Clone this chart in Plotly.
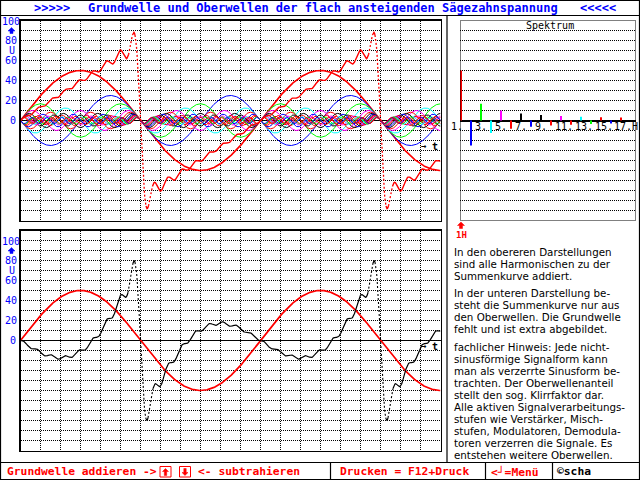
import numpy as np
import plotly.graph_objects as go

# ---------------- data ----------------
HARMONIC_NO = list(range(1, 18))
# amplitudes of harmonics as read in the spectrum panel (units of U)
HARMONIC_AMP = [50, -25, 16.7, -12.5, 10, -8.3, 7.1, -6.3, 5.6, -5,
                4.5, -4.2, 3.8, -3.6, 3.3, -3.1, 2.9]
HARMONIC_COLOR = ["#ff0000", "#0000ff", "#00ff00", "#00ffff", "#ff00ff", "#ff0000",
                  "#000000", "#0000ff", "#000000", "#ff0000", "#ff00ff", "#ff0000",
                  "#00ffff", "#00ff00", "#ff0000", "#0000ff", "#ff0000"]
Y_TICK_LABELS = ["100", "80", "60", "40", "20", "0"]
Y_TICK_VALUES = [100, 80, 60, 40, 20, 0]
SPEC_LABELS = ["1.", "3.", "5.", "7.", "9.", "11.", "13.", "15.", "17.H"]
SPEC_LABEL_POS = [0.6, 3.0, 5.0, 7.0, 9.0, 11.3, 13.3, 15.3, 17.5]
PHASE_END_DEG = 630

TITLE = "Grundwelle und Oberwellen der flach ansteigenden Sägezahnspannung"
INFO_LINES = [
    ("In den obereren Darstellungen", 251),
    ("sind alle Harmonischen zu der", 263),
    ("Summenkurve addiert.", 275),
    ("In der unteren Darstellung be-", 292),
    ("steht die Summenkurve nur aus", 304),
    ("den Oberwellen. Die Grundwelle", 316),
    ("fehlt und ist extra abgebildet.", 328),
    ("fachlicher Hinweis: Jede nicht-", 346),
    ("sinusförmige Signalform kann", 358),
    ("man als verzerrte Sinusform be-", 370),
    ("trachten. Der Oberwellenanteil", 382),
    ("stellt den sog. Klirrfaktor dar.", 394),
    ("Alle aktiven Signalverarbeitungs-", 406),
    ("stufen wie Verstärker, Misch-", 418),
    ("stufen, Modulatoren, Demodula-", 430),
    ("toren verzerren die Signale. Es", 442),
    ("entstehen weitere Oberwellen.", 454),
]

W, H = 640, 480
DEG_PER_PX = 1.5


def px(x):
    return x / W


def py(y):
    return 1 - y / H


# ---------------- curves ----------------
t = np.arange(0, PHASE_END_DEG + 0.01, 0.75)
rad = np.deg2rad(t)
waves = [a * np.sin(n * rad) for n, a in zip(HARMONIC_NO, HARMONIC_AMP)]
total = np.sum(waves, axis=0)
overtones = total - waves[0]


def split_curve(x, y, thr=4.0):
    out = {False: ([], []), True: ([], [])}
    prev = None
    for i in range(len(x) - 1):
        s = abs(y[i + 1] - y[i]) / ((x[i + 1] - x[i]) / DEG_PER_PX) > thr
        xs, ys = out[s]
        if prev != s:
            if xs:
                xs.append(None)
                ys.append(None)
            xs.append(x[i])
            ys.append(y[i])
        xs.append(x[i + 1])
        ys.append(y[i + 1])
        prev = s
    return out[False], out[True]


fig = go.Figure()

# top plot: all harmonics
for n, w, c in zip(HARMONIC_NO, waves, HARMONIC_COLOR):
    fig.add_trace(go.Scatter(x=t, y=w, mode="lines",
                             line=dict(color=c, width=1.6 if n == 1 else 1.0),
                             xaxis="x", yaxis="y", hoverinfo="skip", showlegend=False))
(sx, sy), (dx, dy) = split_curve(t, total)
fig.add_trace(go.Scatter(x=sx, y=sy, mode="lines", line=dict(color="#ff0000", width=1.4),
                         xaxis="x", yaxis="y", showlegend=False, hoverinfo="skip"))
fig.add_trace(go.Scatter(x=dx, y=dy, mode="lines",
                         line=dict(color="#ff0000", width=1.3, dash="2px,2px"),
                         xaxis="x", yaxis="y", showlegend=False, hoverinfo="skip"))

# bottom plot: fundamental + sum of overtones
fig.add_trace(go.Scatter(x=t, y=waves[0], mode="lines", line=dict(color="#ff0000", width=1.7),
                         xaxis="x2", yaxis="y2", showlegend=False, hoverinfo="skip"))
(sx, sy), (dx, dy) = split_curve(t, overtones)
fig.add_trace(go.Scatter(x=sx, y=sy, mode="lines", line=dict(color="#000000", width=1.2),
                         xaxis="x2", yaxis="y2", showlegend=False, hoverinfo="skip"))
fig.add_trace(go.Scatter(x=dx, y=dy, mode="lines",
                         line=dict(color="#000000", width=1.1, dash="2px,2px"),
                         xaxis="x2", yaxis="y2", showlegend=False, hoverinfo="skip"))

# spectrum bars
for n, a, c in zip(HARMONIC_NO, HARMONIC_AMP, HARMONIC_COLOR):
    fig.add_trace(go.Scatter(x=[n, n], y=[0, a], mode="lines", line=dict(color=c, width=2),
                             xaxis="x3", yaxis="y3", showlegend=False, hoverinfo="skip"))

DOT = "1px,1px"
grid_common = dict(showgrid=True, gridcolor="black", gridwidth=1, griddash=DOT,
                   showticklabels=False, ticks="", fixedrange=True)

fig.update_layout(
    width=W, height=H, autosize=False,
    margin=dict(l=0, r=0, t=0, b=0, pad=0),
    paper_bgcolor="white", plot_bgcolor="white",
    showlegend=False,
    xaxis=dict(domain=[px(20.5), px(440.5)], range=[0, PHASE_END_DEG], dtick=30, tick0=0,
               zeroline=False, showline=True, mirror=True, linecolor="black", linewidth=1.2,
               anchor="y", **grid_common),
    yaxis=dict(domain=[py(220.5), py(20.5)], range=[-100, 100], dtick=10, tick0=0,
               zeroline=True, zerolinecolor="black", zerolinewidth=1.5,
               showline=True, mirror=True, linecolor="black", linewidth=1.2,
               anchor="x", **grid_common),
    xaxis2=dict(domain=[px(20.5), px(440.5)], range=[0, PHASE_END_DEG], dtick=30, tick0=0,
                zeroline=False, showline=True, mirror=True, linecolor="black", linewidth=1.2,
                anchor="y2", **grid_common),
    yaxis2=dict(domain=[py(450.5), py(230.5)], range=[-110, 110], dtick=10, tick0=0,
                zeroline=True, zerolinecolor="black", zerolinewidth=1.5,
                showline=True, mirror=True, linecolor="black", linewidth=1.2,
                anchor="x2", **grid_common),
    xaxis3=dict(domain=[px(460), px(636)], range=[0.9, 18.5], showgrid=False,
                zeroline=False, showline=False, showticklabels=False, ticks="",
                anchor="y3", fixedrange=True),
    yaxis3=dict(domain=[py(220.5), py(20.5)], range=[-100, 100], dtick=10, tick0=0,
                zeroline=True, zerolinecolor="black", zerolinewidth=2,
                showline=False, anchor="x3", **grid_common),
)

shapes = []


def line(x0, y0, x1, y1, color="black", width=1.2, dash="solid"):
    shapes.append(dict(type="line", xref="paper", yref="paper",
                       x0=px(x0), y0=py(y0), x1=px(x1), y1=py(y1),
                       line=dict(color=color, width=width, dash=dash)))


def rect(x0, y0, x1, y1, color="black", width=1.2, dash="solid", fill="rgba(0,0,0,0)"):
    shapes.append(dict(type="rect", xref="paper", yref="paper",
                       x0=px(x0), y0=py(y0), x1=px(x1), y1=py(y1), fillcolor=fill,
                       line=dict(color=color, width=width, dash=dash)))


def arrow(cx, ty, h, color, up=True, hw=3.5, sw=1.5, hh=3.5):
    if up:
        pts = [(cx, ty), (cx + hw, ty + hh), (cx + sw, ty + hh), (cx + sw, ty + h),
               (cx - sw, ty + h), (cx - sw, ty + hh), (cx - hw, ty + hh)]
    else:
        by = ty + h
        pts = [(cx, by), (cx + hw, by - hh), (cx + sw, by - hh), (cx + sw, ty),
               (cx - sw, ty), (cx - sw, by - hh), (cx - hw, by - hh)]
    path = "M " + " L ".join(f"{px(a):.5f},{py(b):.5f}" for a, b in pts) + " Z"
    shapes.append(dict(type="path", xref="paper", yref="paper", path=path,
                       fillcolor=color, line=dict(color=color, width=0.5)))


# frame and separators
rect(0.5, 0.5, 639.5, 479.5, width=1.2)
line(0, 15.5, 640, 15.5)
line(0, 462.5, 640, 462.5)
line(447, 15.5, 447, 462.5)
line(330.5, 462.5, 330.5, 480)
line(485.5, 462.5, 485.5, 480)
line(552.5, 462.5, 552.5, 480)
# spectrum dotted frame
rect(460.5, 20.5, 635.5, 220.5, width=1, dash=DOT)
# axis arrows
arrow(11.5, 27.5, 6, "#0000ff")
arrow(11.5, 247.5, 6, "#0000ff")
arrow(461, 222, 6.5, "#ff0000")
# key boxes in status bar
rect(160, 466.5, 171, 477, color="#ff0000", width=1)
arrow(165.5, 468.5, 7, "#ff0000", hw=3, sw=1.2, hh=3)
rect(179.5, 466.5, 190.5, 477, color="#ff0000", width=1)
arrow(185, 468.5, 7, "#ff0000", up=False, hw=3, sw=1.2, hh=3)

fig.update_layout(shapes=shapes)

ann = []
MONO = "DejaVu Sans Mono"


def text(x, y, s, color="black", size=10, family=MONO, anchor="center", bold=False):
    if bold:
        s = "<b>" + s + "</b>"
    ann.append(dict(xref="paper", yref="paper", x=px(x), y=py(y), text=s, showarrow=False,
                    xanchor=anchor, yanchor="middle",
                    font=dict(color=color, size=size, family=family)))


# title
text(51.5, 7.5, "&gt;&gt;&gt;&gt;&gt;", "#0000ff", 12, bold=True)
text(323, 7.5, TITLE, "#0000ff", 12, bold=True)
text(597.5, 7.5, "&lt;&lt;&lt;&lt;&lt;", "#0000ff", 12, bold=True)

# y tick labels, both plots
for off in (0, 220):
    for lab, v in zip(Y_TICK_LABELS, Y_TICK_VALUES):
        yy = 120.7 - v + off + (1 if v == 100 else 0)
        text(11 if v else 12.5, yy, lab, "#0000ff", 10)
    text(11.5, 50.3 + off, "U", "#0000ff", 10)

# time arrow labels
text(424, 146, "→", "black", 9, bold=True)
text(435, 146.5, "t", "black", 10, bold=True)
text(424, 346, "→", "black", 9, bold=True)
text(435, 346.5, "t", "black", 10, bold=True)

# spectrum labels
text(550, 25.5, "Spektrum", "black", 10)
for lab, p in zip(SPEC_LABELS, SPEC_LABEL_POS):
    text(461 + (p - 1) * 10, 126.5, lab, "black", 10)
text(461, 234.5, "1H", "#ff0000", 9, bold=True)

# info text
for s, yy in INFO_LINES:
    text(452, yy + 0.5, s, "black", 10.3, family="DejaVu Sans", anchor="left")

# status bar
text(5, 471.5, "Grundwelle addieren -&gt;", "#ff0000", 11.3, anchor="left", bold=True)
text(196, 471.5, "&lt;- subtrahieren", "#ff0000", 11.3, anchor="left", bold=True)
text(338, 471.5, "Drucken = F12+Druck", "#ff0000", 11.3, anchor="left", bold=True)
text(489, 471.5, "&lt;┘=Menü", "#ff0000", 11.3, anchor="left", bold=True)
text(555, 471.5, "©scha", "black", 11.3, anchor="left", bold=True)

fig.update_layout(annotations=ann)

fig.write_html("out.html", config={"displayModeBar": False, "staticPlot": True},
               post_script="document.body.style.margin='0';")
